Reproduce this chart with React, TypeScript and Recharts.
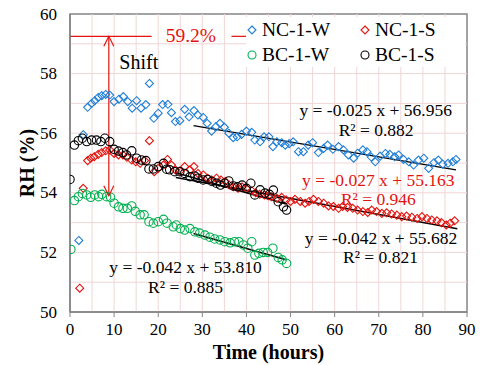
import React from 'react';
import {
  ComposedChart, Scatter, XAxis, YAxis, ReferenceLine, ReferenceDot, ReferenceArea, Legend,
} from 'recharts';

const FONT = "'Liberation Serif','Times New Roman',serif";

// [time (hours), RH (%)]
const ncW: [number, number][] = [
  [2, 52.4], [3, 55.95], [4, 56.87], [4.9, 57.0], [5.6, 57.09], [6.4, 57.2], [7.2, 57.26], [8.1, 57.3],
  [9, 57.28], [10, 57.06], [11.1, 57.14], [12.1, 57.23], [13.1, 57.06], [14.1, 56.84], [15.1, 57.09],
  [16.1, 56.84], [17.2, 56.96], [18, 57.67], [19, 56.5], [20, 56.67], [21, 56.96], [22.2, 56.97],
  [23, 56.69], [23.9, 56.39], [24.9, 56.42], [26, 56.8], [27, 56.55], [28.1, 56.76], [29, 56.61],
  [30.2, 56.53], [31.1, 56.33], [32.1, 56.07], [33.1, 56.22], [34, 56.33], [35, 56.2], [36, 56.0],
  [37, 55.85], [37.9, 55.88], [38.9, 55.96], [40, 56.07], [41.2, 56.03], [41.9, 55.77], [43.1, 55.71],
  [44, 55.88], [45.1, 55.88], [46, 55.55], [46.9, 55.71], [48, 55.68], [48.8, 55.6], [49.7, 55.65],
  [50.6, 55.71], [51.8, 55.38], [52.9, 55.38], [54, 55.6], [55, 55.68], [56.3, 55.35], [57.5, 55.49],
  [58.4, 55.6], [59.6, 55.46], [60.9, 55.55], [62, 55.44], [63.1, 55.27], [64.3, 55.16], [65.2, 55.33],
  [66.4, 55.44], [67.3, 55.38], [68.3, 55.2], [69.2, 55.04], [70.3, 55.23], [71.5, 55.32], [72.5, 55.29],
  [73.6, 55.21], [74.5, 55.27], [75.6, 55.12], [76.8, 55.04], [77.9, 54.93], [79, 55.1], [80.2, 55.16],
  [81.3, 54.82], [82.5, 55.01], [83.5, 55.1], [84.5, 54.96], [85.7, 54.99], [86.8, 55.04], [87.5, 55.12],
];

const ncS: [number, number][] = [
  [2.2, 50.8], [3, 54.15], [4, 55.08], [4.7, 55.16], [5.5, 55.21], [6.4, 55.29], [7.2, 55.35], [8.1, 55.41],
  [9, 55.44], [10, 55.32], [11, 55.27], [12, 55.27], [12.9, 55.19], [14, 55.1], [14.9, 55.04], [15.9, 54.99],
  [16.9, 55.08], [18, 55.75], [19.1, 54.71], [20, 54.82], [21.2, 54.93], [22.1, 55.12], [23, 54.93],
  [23.9, 54.77], [24.9, 54.73], [26, 54.88], [27.2, 54.77], [28.1, 54.88], [29, 54.65], [30.2, 54.6],
  [31.2, 54.49], [32.1, 54.43], [33.2, 54.49], [34.2, 54.43], [35.2, 54.38], [36.1, 54.26], [37, 54.2],
  [38.1, 54.15], [39, 54.2], [40, 54.15], [41.2, 54.07], [42.1, 54.0], [43, 53.95], [44.1, 53.93],
  [45, 53.9], [45.7, 53.87], [46.9, 53.82], [48, 53.85], [49, 53.76], [50, 53.71], [51, 53.78],
  [52.2, 53.71], [53.3, 53.65], [54.2, 53.71], [55.2, 53.78], [56.3, 53.71], [57.5, 53.65], [58.6, 53.56],
  [59.7, 53.54], [60.9, 53.48], [61.8, 53.54], [62.9, 53.51], [64.1, 53.48], [65.2, 53.42], [66.4, 53.37],
  [67.5, 53.34], [68.4, 53.42], [69.5, 53.37], [70.7, 53.31], [71.8, 53.33], [72.9, 53.29], [74.1, 53.25],
  [75.2, 53.2], [76.3, 53.22], [77.5, 53.18], [78.7, 53.14], [79.8, 53.2], [80.9, 53.14], [82, 53.09],
  [83.2, 53.06], [84.2, 53.0], [85.3, 52.92], [86.2, 52.98], [87.2, 53.06],
];

const bcW: [number, number][] = [
  [0.2, 52.1], [1, 53.74], [1.9, 53.87], [2.8, 53.98], [3.8, 53.93], [4.7, 53.85], [5.6, 53.93], [6.5, 53.87],
  [7.2, 53.95], [8.3, 53.87], [9.2, 53.85], [10, 53.65], [11, 53.53], [12, 53.48], [13, 53.48], [14, 53.56],
  [14.8, 53.38], [15.9, 53.26], [16.8, 53.26], [17.9, 53.03], [18.9, 52.98], [20, 53.03], [21.2, 53.11],
  [22, 52.98], [23.4, 52.86], [24.1, 52.92], [25, 52.8], [26, 52.75], [27.2, 52.8], [28.3, 52.69],
  [29.4, 52.65], [30.6, 52.58], [31.7, 52.51], [32.8, 52.45], [34, 52.42], [35.1, 52.36], [36.3, 52.32],
  [37.3, 52.36], [38.3, 52.36], [39.3, 52.25], [40.3, 52.14], [41.2, 52.36], [41.9, 51.91], [42.8, 51.97],
  [43.8, 52.0], [44.8, 52.0], [46, 52.14], [47.2, 51.83], [48.1, 51.75], [49.1, 51.63],
];

const bcS: [number, number][] = [
  [0, 54.45], [1, 55.6], [1.9, 55.75], [2.8, 55.83], [3.8, 55.72], [4.9, 55.77], [6, 55.77], [7, 55.72],
  [7.9, 55.83], [9, 55.72], [10, 55.46], [11, 55.4], [12, 55.35], [12.8, 55.27], [14, 55.41], [15.1, 55.16],
  [16.2, 55.1], [17.2, 55.08], [17.9, 54.8], [18.9, 54.8], [20, 54.88], [21.2, 54.99], [21.9, 54.79],
  [22.6, 54.77], [23.75, 54.71], [24.9, 54.71], [26, 54.65], [27.2, 54.54], [28.3, 54.56], [29, 54.49],
  [30.2, 54.43], [31.2, 54.45], [32.2, 54.38], [33.2, 54.32], [34.1, 54.26], [35, 54.32], [36, 54.4],
  [37, 54.23], [38, 54.2], [39, 54.26], [40, 54.15], [41, 54.32], [41.9, 53.93], [43.1, 54.1], [44.2, 53.99],
  [45.2, 53.95], [46.1, 54.09], [47.2, 53.7], [48.4, 53.53], [49.1, 53.42],
];

// linear fits: [slope, intercept, tStart, tEnd]
const fitNcW = [-0.025, 56.956, 28, 87.5];
const fitNcS = [-0.027, 55.163, 24, 87.8];
const fitBcS = [-0.042, 55.682, 24, 49];
const fitBcW = [-0.042, 53.81, 28, 49];

const xTicks = [0, 10, 20, 30, 40, 50, 60, 70, 80, 90];
const yTicks = [50, 52, 54, 56, 58, 60];
const xGrid = [5, 10, 15, 20, 25, 30, 35, 40, 45, 50, 55, 60, 65, 70, 75, 80, 85];
const yGrid = [51, 52, 53, 54, 55, 56, 57, 58, 59];

// shift annotation
const shiftTime = 8.8;
const shiftTop = 59.25;
const shiftBottom = 53.9;

const BLUE = '#1f7fd6';
const RED = '#e3140f';
const GREEN = '#00b050';
const BLACK = '#000000';
const GRID = '#f0d6d6';
const FRAME = '#858585';

const toData = (arr: [number, number][]) => arr.map(([t, rh]) => ({ t, rh }));

const Diamond = (color: string) => (p: any) => {
  const { cx, cy } = p;
  if (cx == null || cy == null) return <g />;
  const s = 4;
  return (
    <polygon
      points={`${cx},${cy - s} ${cx + s},${cy} ${cx},${cy + s} ${cx - s},${cy}`}
      fill="none"
      stroke={color}
      strokeWidth={1.1}
    />
  );
};

const Circle = (color: string) => (p: any) => {
  const { cx, cy } = p;
  if (cx == null || cy == null) return <g />;
  return <circle cx={cx} cy={cy} r={4.2} fill="none" stroke={color} strokeWidth={1.1} />;
};

const ArrowHead = (dir: number) => (p: any) => {
  const { cx, cy } = p;
  if (cx == null || cy == null) return <g />;
  return (
    <polyline
      points={`${cx - 5},${cy + dir * 10} ${cx},${cy} ${cx + 5},${cy + dir * 10}`}
      fill="none"
      stroke={RED}
      strokeWidth={1.2}
    />
  );
};

const fitSeg = (f: number[]) => [
  { x: f[2], y: f[0] * f[2] + f[1] },
  { x: f[3], y: f[0] * f[3] + f[1] },
];

const annotations = [
  { x: 15.6, y: 58.39, text: 'Shift', color: BLACK, size: 20 },
  { x: 27.4, y: 59.27, text: '59.2%', color: RED, size: 19.5 },
  { x: 69.3, y: 56.78, text: 'y = -0.025 x + 56.956', color: BLACK, size: 17.5 },
  { x: 69.4, y: 56.12, text: 'R² = 0.882', color: BLACK, size: 17.5 },
  { x: 69.9, y: 54.42, text: 'y = -0.027 x + 55.163', color: RED, size: 17.5 },
  { x: 69.9, y: 53.78, text: 'R² = 0.946', color: RED, size: 17.5 },
  { x: 70.5, y: 52.48, text: 'y = -0.042 x + 55.682', color: BLACK, size: 17.5 },
  { x: 70.4, y: 51.85, text: 'R² = 0.821', color: BLACK, size: 17.5 },
  { x: 26.2, y: 51.51, text: 'y = -0.042 x + 53.810', color: BLACK, size: 17.5 },
  { x: 26.2, y: 50.84, text: 'R² = 0.885', color: BLACK, size: 17.5 },
];

const legendItems = [
  { name: 'NC-1-W', color: BLUE, shape: 'diamond' },
  { name: 'NC-1-S', color: RED, shape: 'diamond' },
  { name: 'BC-1-W', color: GREEN, shape: 'circle' },
  { name: 'BC-1-S', color: BLACK, shape: 'circle' },
];

const renderLegend = () => (
  <div
    style={{
      position: 'relative',
      width: 219,
      height: 50,
      background: '#fff',
      fontFamily: FONT,
      fontSize: 19.5,
      lineHeight: '25px',
      color: '#000',
    }}
  >
    {legendItems.map((it, i) => {
      const col = i % 2;
      const row = Math.floor(i / 2);
      const left = col === 0 ? 1 : 114;
      return (
        <div
          key={it.name}
          style={{ position: 'absolute', left, top: row * 25, height: 25, display: 'flex', alignItems: 'center', whiteSpace: 'nowrap' }}
        >
          <svg width={10} height={10} style={{ marginRight: 5 }}>
            {it.shape === 'diamond' ? (
              <polygon points="5,1 9,5 5,9 1,5" fill="none" stroke={it.color} strokeWidth={1.1} />
            ) : (
              <circle cx={5} cy={5} r={4} fill="none" stroke={it.color} strokeWidth={1.1} />
            )}
          </svg>
          <span>{it.name}</span>
        </div>
      );
    })}
  </div>
);

const XTick = (p: any) => (
  <text
    x={p.x}
    y={p.y + 8}
    textAnchor="middle"
    dominantBaseline="central"
    style={{ fontFamily: FONT, fontSize: 17 }}
    fill="#000"
  >
    {p.payload.value}
  </text>
);

const YTick = (p: any) => (
  <text
    x={p.x}
    y={p.y}
    textAnchor="end"
    dominantBaseline="central"
    style={{ fontFamily: FONT, fontSize: 17 }}
    fill="#000"
  >
    {p.payload.value}
  </text>
);

const annotationLabel = (text: string, color: string, size: number) => (p: any) => {
  const vb = p.viewBox || {};
  const cx = (vb.x ?? 0) + (vb.width ?? 0) / 2;
  const cy = (vb.y ?? 0) + (vb.height ?? 0) / 2;
  return (
    <text
      x={cx}
      y={cy}
      textAnchor="middle"
      dominantBaseline="central"
      style={{ fontFamily: FONT, fontSize: size }}
      fill={color}
    >
      {text}
    </text>
  );
};

export default function App() {
  return (
    <div style={{ position: 'absolute', left: 0, top: 0, fontFamily: FONT }}>
      <ComposedChart
        width={480}
        height={365}
        margin={{ top: 14, right: 13, left: 20, bottom: 0 }}
      >
        <XAxis
          dataKey="t"
          type="number"
          domain={[0, 90]}
          ticks={xTicks}
          allowDataOverflow
          height={53}
          tick={XTick}
          tickSize={5}
          tickMargin={4}
          axisLine={{ stroke: FRAME, strokeWidth: 1.5 }}
          tickLine={{ stroke: FRAME }}
          label={{
            content: (p: any) => {
              const vb = p.viewBox;
              return (
                <text
                  x={vb.x + vb.width / 2}
                  y={vb.y + 40}
                  textAnchor="middle"
                  dominantBaseline="central"
                  style={{ fontFamily: FONT }}
                  fontSize={20}
                  fontWeight="bold"
                  fill="#000"
                >
                  Time (hours)
                </text>
              );
            },
          }}
        />
        <YAxis
          dataKey="rh"
          type="number"
          domain={[50, 60]}
          ticks={yTicks}
          allowDataOverflow
          width={50}
          tick={YTick}
          tickLine={false}
          tickMargin={7}
          axisLine={{ stroke: FRAME, strokeWidth: 1.5 }}
          label={{
            content: (p: any) => {
              const vb = p.viewBox;
              const cx = vb.x + 7;
              const cy = vb.y + vb.height / 2;
              return (
                <text
                  x={cx}
                  y={cy}
                  transform={`rotate(-90 ${cx} ${cy})`}
                  textAnchor="middle"
                  dominantBaseline="central"
                  style={{ fontFamily: FONT }}
                  fontSize={20}
                  fontWeight="bold"
                  fill="#000"
                >
                  RH (%)
                </text>
              );
            },
          }}
        />
        {xGrid.map((g) => (
          <ReferenceLine key={'gx' + g} x={g} stroke={GRID} strokeWidth={1} />
        ))}
        {yGrid.map((g) => (
          <ReferenceLine key={'gy' + g} y={g} stroke={GRID} strokeWidth={1} />
        ))}
        <ReferenceArea x1={0} x2={90} y1={50} y2={60} fill="none" stroke={FRAME} strokeWidth={1.5} />

        <ReferenceLine segment={[{ x: 0, y: shiftTop }, { x: 18.5, y: shiftTop }]} stroke={RED} strokeWidth={1.2} />
        <ReferenceLine segment={[{ x: 36.6, y: shiftTop }, { x: 40, y: shiftTop }]} stroke={RED} strokeWidth={1.2} />
        <ReferenceLine segment={[{ x: shiftTime, y: shiftTop }, { x: shiftTime, y: shiftBottom }]} stroke={RED} strokeWidth={1.2} />

        <Scatter data={toData(ncW)} dataKey="rh" shape={Diamond(BLUE)} isAnimationActive={false} />
        <Scatter data={toData(ncS)} dataKey="rh" shape={Diamond(RED)} isAnimationActive={false} />
        <Scatter data={toData(bcW)} dataKey="rh" shape={Circle(GREEN)} isAnimationActive={false} />
        <Scatter data={toData(bcS)} dataKey="rh" shape={Circle(BLACK)} isAnimationActive={false} />

        <Scatter data={[{ t: shiftTime, rh: shiftTop }]} dataKey="rh" shape={ArrowHead(1)} isAnimationActive={false} />
        <Scatter data={[{ t: shiftTime, rh: shiftBottom }]} dataKey="rh" shape={ArrowHead(-1)} isAnimationActive={false} />

        <ReferenceLine segment={fitSeg(fitNcW)} stroke="#000" strokeWidth={1.4} />
        <ReferenceLine segment={fitSeg(fitNcS)} stroke="#000" strokeWidth={1.4} />
        <ReferenceLine segment={fitSeg(fitBcS)} stroke="#000" strokeWidth={1.4} />
        <ReferenceLine segment={fitSeg(fitBcW)} stroke="#000" strokeWidth={1.4} />

        {annotations.map((a) => (
          <ReferenceDot
            key={a.text}
            x={a.x}
            y={a.y}
            r={0}
            fill="none"
            stroke="none"
            label={{ content: annotationLabel(a.text, a.color, a.size) }}
          />
        ))}

        <Legend
          content={renderLegend}
          layout="horizontal"
          verticalAlign="middle"
          align="center"
          wrapperStyle={{ top: 17, left: 246, width: 219, height: 50 }}
        />
      </ComposedChart>
    </div>
  );
}
